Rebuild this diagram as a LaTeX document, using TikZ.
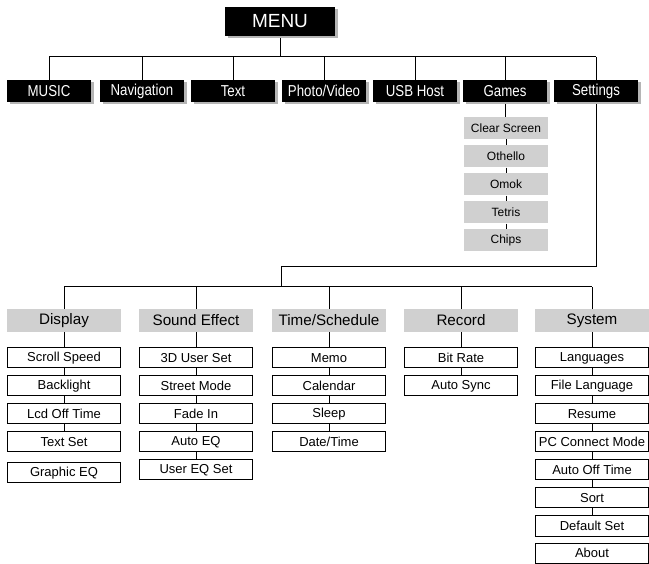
\documentclass[tikz,border=0pt]{standalone}
\usepackage{fontspec}
\setmainfont{Liberation Sans}
\newfontfamily\narrowfont[FakeStretch=0.84]{Liberation Sans}
\usetikzlibrary{shadows,backgrounds}
\definecolor{hdrgray}{HTML}{D0D0D0}
\definecolor{shgray}{HTML}{B5B5B5}
\tikzset{
  topbox/.style={fill=black, text=white, minimum width=84pt, minimum height=22pt, inner sep=0pt,
    font=\narrowfont\fontsize{15.8}{17}\selectfont,
    drop shadow={shadow xshift=2.5pt, shadow yshift=-2.5pt, fill=shgray, opacity=1}},
  menubox/.style={topbox, minimum width=110pt, minimum height=29pt, font=\fontsize{19}{21}\selectfont},
  gamebox/.style={fill=hdrgray, minimum width=84pt, minimum height=22pt, inner sep=0pt, font=\fontsize{12}{14}\selectfont},
  hdrbox/.style={fill=hdrgray, minimum width=114pt, minimum height=23pt, inner sep=0pt, font=\fontsize{15.2}{16}\selectfont},
  itembox/.style={draw=black, line width=1pt, fill=white, minimum width=113pt, minimum height=20pt, inner sep=0pt, font=\fontsize{13}{15}\selectfont},
  conn/.style={draw=black, line width=1pt}
}
\begin{document}
\begin{tikzpicture}[x=1pt,y=-1pt]
\useasboundingbox (0,0) rectangle (649,564);
% top
\node[menubox] (menu) at (280,21.5) {MENU};
\node[topbox] (music) at (49,91) {MUSIC};
\node[topbox] (nav) at (142,91) {Navigation};
\node[topbox] (text) at (233,91) {Text};
\node[topbox] (photo) at (324,91) {Photo/Video};
\node[topbox] (usb) at (415,91) {USB Host};
\node[topbox] (games) at (505,91) {Games};
\node[topbox] (settings) at (596,91) {Settings};
% games
\node[gamebox] (g1) at (506,128) {Clear Screen};
\node[gamebox] (g2) at (506,156.5) {Othello};
\node[gamebox] (g3) at (506,184.5) {Omok};
\node[gamebox] (g4) at (506,212.5) {Tetris};
\node[gamebox] (g5) at (506,240.5) {Chips};
% headers
\node[hdrbox] (display) at (64,320.5) {Display};
\node[hdrbox] (sound) at (196,320.5) {Sound Effect};
\node[hdrbox] (time) at (329,320.5) {Time/Schedule};
\node[hdrbox] (record) at (461,320.5) {Record};
\node[hdrbox] (system) at (592,320.5) {System};
% display
\node[itembox] (d1) at (64,358) {Scroll Speed};
\node[itembox] (d2) at (64,386) {Backlight};
\node[itembox] (d3) at (64,414) {Lcd Off Time};
\node[itembox] (d4) at (64,442) {Text Set};
\node[itembox] (d5) at (64,473) {Graphic EQ};
% sound
\node[itembox] (s1) at (196,358) {3D User Set};
\node[itembox] (s2) at (196,386) {Street Mode};
\node[itembox] (s3) at (196,414) {Fade In};
\node[itembox] (s4) at (196,442) {Auto EQ};
\node[itembox] (s5) at (196,470) {User EQ Set};
% time
\node[itembox] (t1) at (329,358) {Memo};
\node[itembox] (t2) at (329,386) {Calendar};
\node[itembox] (t3) at (329,414) {Sleep};
\node[itembox] (t4) at (329,442) {Date/Time};
% record
\node[itembox] (r1) at (461,358) {Bit Rate};
\node[itembox] (r2) at (461,386) {Auto Sync};
% system
\node[itembox] (y1) at (592,358) {Languages};
\node[itembox] (y2) at (592,386) {File Language};
\node[itembox] (y3) at (592,414) {Resume};
\node[itembox] (y4) at (592,442) {PC Connect Mode};
\node[itembox] (y5) at (592,470) {Auto Off Time};
\node[itembox] (y6) at (592,498) {Sort};
\node[itembox] (y7) at (592,526) {Default Set};
\node[itembox] (y8) at (592,553) {About};
% coordinates
\coordinate (bus) at (0,57);
\coordinate (up) at (281,267);
\coordinate (low) at (0,287);
\begin{scope}[on background layer]
\draw[conn] (menu.south) -- (menu.south |- bus);
\draw[conn] (music.north |- bus) -- (settings.north |- bus);
\foreach \n in {music,nav,text,photo,usb,games,settings}
  \draw[conn] (\n.north) -- (\n.north |- bus);
\draw[conn] (games.south) -- (g1.north -| games.south);
\draw[conn] (g1) -- (g2) -- (g3) -- (g4) -- (g5);
\draw[conn] (settings.south) |- (up) -- (up |- low);
\draw[conn] (display.north |- low) -- (system.north |- low);
\foreach \n in {display,sound,time,record,system}
  \draw[conn] (\n.north) -- (\n.north |- low);
\draw[conn] (display) -- (d1) -- (d2) -- (d3) -- (d4);
\draw[conn] (sound) -- (s1) -- (s2) -- (s3) -- (s4) -- (s5);
\draw[conn] (time) -- (t1) -- (t2) -- (t3) -- (t4);
\draw[conn] (record) -- (r1) -- (r2);
\draw[conn] (system) -- (y1) -- (y2) -- (y3) -- (y4) -- (y5) -- (y6) -- (y7);
\end{scope}
\end{tikzpicture}
\end{document}
